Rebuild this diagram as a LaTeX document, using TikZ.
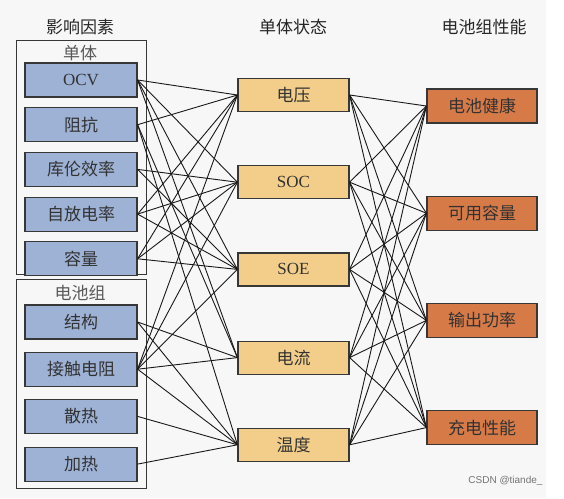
\documentclass[tikz,border=0pt]{standalone}
\usepackage{fontspec}
\setmainfont{Liberation Serif}
\newfontfamily\cjk{Noto Sans CJK SC}
\newfontfamily\wmfont{Liberation Sans}
\usetikzlibrary{positioning}
\definecolor{factorblue}{RGB}{158,178,214}
\definecolor{stateyellow}{RGB}{242,206,138}
\definecolor{perforange}{RGB}{214,122,72}
\definecolor{edgegray}{RGB}{55,55,55}
\definecolor{textgray}{RGB}{50,50,50}
\definecolor{bggray}{RGB}{247,247,247}
\newcommand{\fs}{\fontsize{17}{20}\selectfont}

\begin{document}
\begin{tikzpicture}[
    x=1pt, y=-1pt,
    box/.style={draw=edgegray, line width=1.2pt, minimum height=34pt, inner sep=0pt,
      text=textgray, font=\fs\cjk},
    factor/.style={box, fill=factorblue, minimum width=112pt},
    state/.style={box, fill=stateyellow, minimum width=111pt, minimum height=33pt},
    perf/.style={box, fill=perforange, minimum width=110pt},
    frame/.style={draw=edgegray, line width=1pt},
    head/.style={text=black!85, font=\fs\cjk},
    link/.style={black!90, line width=0.9pt}
  ]
    \useasboundingbox (0,0) rectangle (564,498);
    \fill[white] (0,0) rectangle (564,498);
    \fill[bggray] (0,0) rectangle (546,498);

    % headings
    \node[head] (h1) at (80,27) {影响因素};
    \node[head] (h2) at (293,27) {单体状态};
    \node[head] (h3) at (484,27) {电池组性能};

    % group frames
    \draw[frame] (16,40) rectangle (146,274);
    \draw[frame] (16,279) rectangle (146,488);
    \node[head, text=black!65] (g1) at (80,53) {单体};
    \node[head, text=black!65] (g2) at (80,293) {电池组};

    % influencing factors
    \node[factor, font=\fs\rmfamily] (ocv) at (81,80) {OCV};
    \node[factor, below=9.5pt of ocv] (zukang) {阻抗};
    \node[factor, below=9.5pt of zukang] (kulun) {库伦效率};
    \node[factor, below=9.5pt of kulun] (zifang) {自放电率};
    \node[factor, below=9.5pt of zifang] (rongliang) {容量};
    \node[factor] (jiegou) at (81,322) {结构};
    \node[factor, below=12pt of jiegou] (jiechu) {接触电阻};
    \node[factor, below=12pt of jiechu] (sanre) {散热};
    \node[factor, below=12.5pt of sanre] (jiare) {加热};

    % cell states
    \node[state] (dianya) at (293.5,95) {电压};
    \node[state, font=\fs\rmfamily, below=53pt of dianya] (soc) {SOC};
    \node[state, font=\fs\rmfamily, below=53pt of soc] (soe) {SOE};
    \node[state, below=54pt of soe] (dianliu) {电流};
    \node[state, below=53pt of dianliu] (wendu) {温度};

    % pack performance
    \node[perf] (jiankang) at (482,106) {电池健康};
    \node[perf, below=72pt of jiankang] (keyong) {可用容量};
    \node[perf, below=72pt of keyong] (gonglv) {输出功率};
    \node[perf, below=72pt of gonglv] (chongdian) {充电性能};

    % factors -> states
    \foreach \a/\b in {ocv/dianya, ocv/soc, ocv/soe, ocv/dianliu,
                       zukang/dianya, zukang/dianliu, zukang/wendu,
                       kulun/soc, kulun/soe,
                       zifang/dianya, zifang/soc, zifang/soe,
                       rongliang/dianya, rongliang/soc, rongliang/soe,
                       jiegou/dianliu, jiegou/wendu,
                       jiechu/dianya, jiechu/soc, jiechu/soe, jiechu/dianliu, jiechu/wendu,
                       sanre/wendu, jiare/wendu}
      \draw[link] (\a.east) -- (\b.west);

    % states -> performance
    \foreach \a in {dianya, soc, soe, dianliu, wendu}
      \foreach \b in {jiankang, keyong, gonglv, chongdian}
        \draw[link] (\a.east) -- (\b.west);

    \node[text=black!55, font=\wmfont\fontsize{10}{12}\selectfont, anchor=east] (wm) at (546,481) {CSDN @tiande\_};
\end{tikzpicture}
\end{document}
